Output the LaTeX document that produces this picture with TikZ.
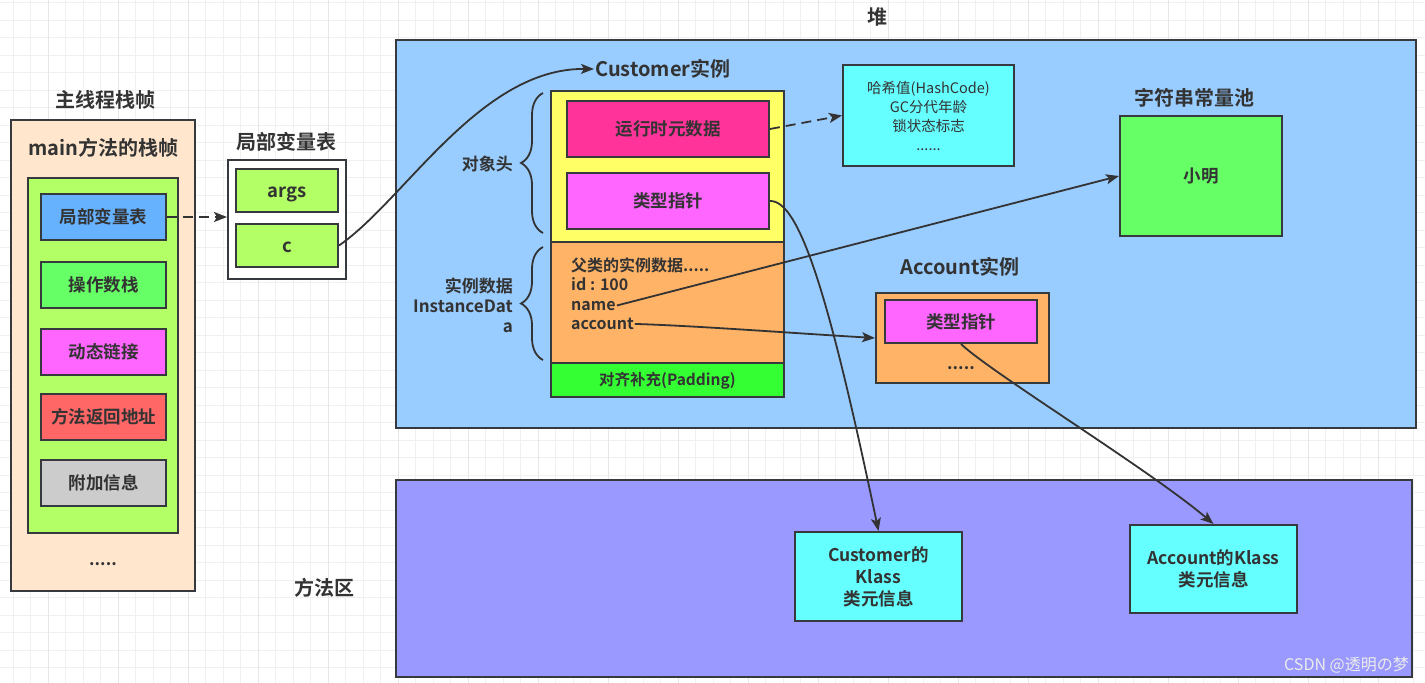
\documentclass[tikz,border=0pt]{standalone}
\usepackage{fontspec}
\setmainfont{Noto Sans CJK SC}[BoldFont={* Bold}]
\usetikzlibrary{arrows.meta, decorations.pathreplacing}
\definecolor{ink}{HTML}{333333}
\definecolor{edge}{HTML}{36393D}
\definecolor{peach}{HTML}{FFE6CC}
\definecolor{lime}{HTML}{B3FF66}
\definecolor{skyblue}{HTML}{66B2FF}
\definecolor{green1}{HTML}{66FF66}
\definecolor{green2}{HTML}{33FF33}
\definecolor{pink1}{HTML}{FF66FF}
\definecolor{rose}{HTML}{FF3399}
\definecolor{salmon}{HTML}{FF6666}
\definecolor{silver}{HTML}{CCCCCC}
\definecolor{heapblue}{HTML}{99CCFF}
\definecolor{yellow1}{HTML}{FFFF66}
\definecolor{orange1}{HTML}{FFB366}
\definecolor{cyan1}{HTML}{66FFFF}
\definecolor{violet1}{HTML}{9999FF}
\definecolor{gridminor}{HTML}{F0F0F0}
\definecolor{gridmajor}{HTML}{E6E6E6}
\begin{document}
\begin{tikzpicture}[x=1pt, y=-1pt, >={Stealth[length=13pt, width=10pt, inset=3pt]},
        box/.style={draw=edge, line width=2pt, inner sep=0pt, text=ink, font=\bfseries\fontsize{17.5}{22}\selectfont},
        one/.style={text height=15.4pt, text depth=2.1pt},
        slot/.style={one, minimum width=125pt, minimum height=46pt},
        title/.style={text=ink, inner sep=1pt, font=\bfseries\fontsize{20}{24}\selectfont},
        label/.style={text=ink, inner sep=1pt, font=\bfseries\fontsize{17}{20}\selectfont},
        field/.style={text=ink, inner sep=1pt, anchor=base west, font=\bfseries\fontsize{16}{19}\selectfont},
        link/.style={draw=ink, line width=1.8pt, ->},
        brace/.style={draw=ink, line width=1.8pt, decorate, decoration={brace, amplitude=22pt}}]
    \useasboundingbox[fill=white] (0,0) rectangle (1425,683);
    \foreach \i in {0,...,81}
        \draw[gridminor, line width=1pt] ({13.3+17.5*\i},0) -- ({13.3+17.5*\i},683);
    \foreach \j in {0,...,38}
        \draw[gridminor, line width=1pt] (0,{2.7+17.5*\j}) -- (1425,{2.7+17.5*\j});
    \foreach \i in {2,6,...,78}
        \draw[gridmajor, line width=1pt] ({13.3+17.5*\i},0) -- ({13.3+17.5*\i},683);

    \node[title] (threadttl) at (105,100) {主线程栈帧};
    \node[box, fill=peach, minimum width=184pt, minimum height=471pt] (frame) at (103,355.5) {};
    \node[title] (framettl) at (103,148) {main方法的栈帧};
    \node[box, fill=lime, minimum width=150pt, minimum height=355pt] (inner) at (103,355.5) {};
    \node[box, slot, fill=skyblue] (lvt) at (103.5,217) {局部变量表};
    \node[box, slot, fill=green1] (ops) at (103.5,284.5) {操作数栈};
    \node[box, slot, fill=pink1] (dyn) at (103.5,352) {动态链接};
    \node[box, slot, fill=salmon] (ret) at (103.5,416.5) {方法返回地址};
    \node[box, slot, fill=silver] (extra) at (103.5,482.5) {附加信息};
    \node[label] (framedots) at (103,564) {.....};

    \node[title] (lvttl) at (286,142) {局部变量表};
    \node[box, fill=white, minimum width=118pt, minimum height=119pt] (lvbox) at (287,219.5) {};
    \node[box, one, fill=lime, minimum width=102pt, minimum height=43pt, font=\bfseries\fontsize{18.5}{22}\selectfont] (args) at (287,190.5) {args};
    \node[box, one, fill=lime, minimum width=102pt, minimum height=43pt, font=\bfseries\fontsize{18.5}{22}\selectfont] (cvar) at (287,245.5) {c};

    \node[title] (heapttl) at (877,17) {堆};
    \node[box, fill=heapblue, minimum width=1020pt, minimum height=388pt] (heap) at (906,234) {};
    \node[title, anchor=west] (custttl) at (594,69) {Customer实例};
    \node[box, fill=yellow1, minimum width=233pt, minimum height=151pt] (hdr) at (667.5,166.5) {};
    \node[box, one, fill=rose, minimum width=202pt, minimum height=56pt] (rtmeta) at (668,129) {运行时元数据};
    \node[box, one, fill=pink1, minimum width=202pt, minimum height=56pt] (cptr) at (668,201) {类型指针};
    \node[box, fill=orange1, minimum width=233pt, minimum height=121pt] (idata) at (667.5,302.5) {};
    \node[box, fill=green2, minimum width=233pt, minimum height=34pt, text height=13.6pt, text depth=1.9pt, font=\bfseries\fontsize{15.5}{18}\selectfont] (pad) at (667.5,380) {对齐补充(Padding)};
    \node[field] (superf) at (570,271) {父类的实例数据.....};
    \node[field] (idf) at (570,290.5) {id : 100};
    \node[field] (namef) at (570,310) {name};
    \node[field] (acctf) at (570,329.5) {account};
    \draw[brace] (543,233) -- (543,93);
    \draw[brace] (543,360) -- (543,247);
    \node[label, anchor=east] (hdrlbl) at (514,164) {对象头};
    \node[label, anchor=east, align=right] (idlbl) at (514,305) {实例数据\\InstanceDat\\a};

    \node[box, fill=cyan1, minimum width=171pt, minimum height=101pt, align=center, font=\fontsize{14.5}{19}\selectfont] (hash) at (928.5,115.5) {哈希值(HashCode)\\GC分代年龄\\锁状态标志\\......};
    \node[title] (poolttl) at (1194,98) {字符串常量池};
    \node[box, one, fill=green1, minimum width=162pt, minimum height=120pt] (pool) at (1201,176) {小明};
    \node[title] (acctttl) at (960,267) {Account实例};
    \node[box, fill=orange1, minimum width=173pt, minimum height=90pt] (acct) at (962.5,338) {};
    \node[box, one, fill=pink1, minimum width=152pt, minimum height=43pt] (aptr) at (961,321.5) {类型指针};
    \node[label] (acctdots) at (961,368) {.....};

    \node[title] (methttl) at (324,588) {方法区};
    \node[box, fill=violet1, minimum width=1016pt, minimum height=197pt] (meth) at (904,578.5) {};
    \node[box, fill=cyan1, minimum width=167pt, minimum height=89pt, align=center] (cklass) at (878.5,576.5) {Customer的\\Klass\\类元信息};
    \node[box, fill=cyan1, minimum width=167pt, minimum height=88pt, align=center] (aklass) at (1213.5,569) {Account的Klass\\类元信息};
    \node[text=white!85!gray, inner sep=0pt, anchor=east, font=\fontsize{16}{18}\selectfont] (mark) at (1409,665) {CSDN @透明の梦};

    \draw[link, dash pattern=on 10pt off 6pt] (lvt.east) -- (lvbox.west |- lvt.east);
    \draw[link] (cvar.east) .. controls (405,200) and (480,68) .. (custttl.west);
    \draw[link, dash pattern=on 10pt off 6pt] (rtmeta.east) -- (hash.west);
    \draw[link] (namef.east) -- (pool.west);
    \draw[link] (acctf.east) .. controls (700,326) and (790,333) .. (acct.west);
    \draw[link] (cptr.east) .. controls (800,200) and (830,300) .. (cklass.north);
    \draw[link] (aptr.south) .. controls (990,372) and (1150,470) .. (aklass.north);
\end{tikzpicture}
\end{document}
